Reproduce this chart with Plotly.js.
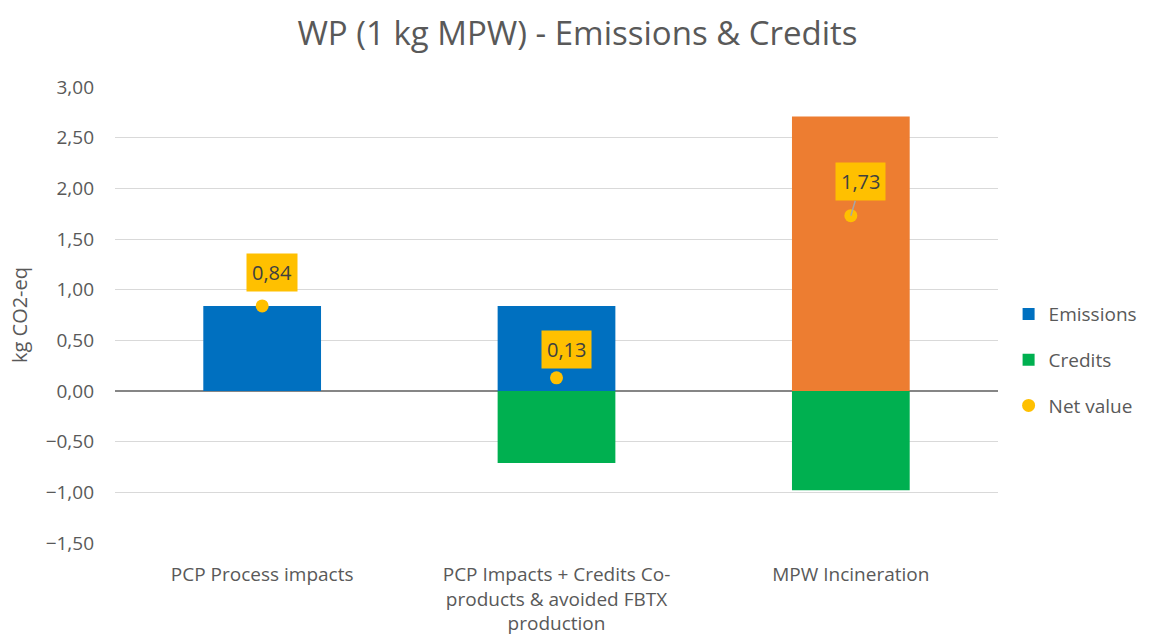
<!DOCTYPE html>
<html>
<head>
<meta charset="utf-8">
<script src="https://cdn.plot.ly/plotly-3.0.1.min.js"></script>
<style>html,body{margin:0;padding:0;background:#fff;}#chart{width:1155px;height:643px;}</style>
</head>
<body>
<div id="chart"></div>
<script>
const categories = ["PCP Process impacts", "PCP Impacts + Credits Co-<br>products & avoided FBTX<br>production", "MPW Incineration"];
const emissions = [0.84, 0.84, 2.71];
const credits = [0, -0.71, -0.98];
const netValue = [0.84, 0.13, 1.73];
const netLabels = ["0,84", "0,13", "1,73"];
const emissionColors = ["#0070C0", "#0070C0", "#ED7D31"];

const FONT = "Open Sans, Liberation Sans, sans-serif";

const traces = [
  {type: "bar", name: "Emissions", x: categories, y: emissions,
   marker: {color: emissionColors}, legendgroup: "a", hoverinfo: "y"},
  {type: "bar", name: "Credits", x: categories, y: credits,
   marker: {color: "#00B050"}, legendgroup: "b", hoverinfo: "y"},
  {type: "scatter", mode: "markers", name: "Net value", x: categories, y: netValue,
   marker: {color: "#FFC000", size: 13}, legendgroup: "c", hoverinfo: "y"}
];

const offsets = [[10, -33, false], [10, -28, false], [10, -34, true]];
const annotations = categories.map((c, i) => ({
  x: c, y: netValue[i], xref: "x", yref: "y",
  text: netLabels[i], showarrow: true,
  ax: offsets[i][0], ay: offsets[i][1],
  arrowhead: 0, arrowwidth: 1.5,
  arrowcolor: offsets[i][2] ? "#A6A6A6" : "rgba(0,0,0,0)",
  bgcolor: "#FFC000", borderpad: 5,
  font: {family: FONT, size: 20, color: "#404040"}
}));

const layout = {
  width: 1155, height: 643,
  paper_bgcolor: "#fff", plot_bgcolor: "#fff",
  separators: ",.",
  barmode: "relative", bargap: 0.6,
  margin: {l: 115, r: 157, t: 87, b: 100},
  title: {text: "WP (1 kg MPW) - Emissions & Credits", x: 0.5, xanchor: "center", y: 0.948, yanchor: "middle",
          font: {family: FONT, size: 33, color: "#595959"}},
  font: {family: FONT, color: "#595959"},
  xaxis: {tickfont: {family: FONT, size: 19, color: "#595959"}, showgrid: false, zeroline: false,
          showline: false, ticks: "", ticklabelstandoff: 18},
  yaxis: {range: [-1.5, 3.0], dtick: 0.5, tickformat: ".2f",
          tickfont: {family: FONT, size: 19, color: "#595959"},
          gridcolor: "#D9D9D9", gridwidth: 1,
          zeroline: true, zerolinecolor: "#868686", zerolinewidth: 2,
          title: {text: "kg CO2-eq", font: {family: FONT, size: 20, color: "#595959"}, standoff: 12},
          ticks: "", showline: false, ticklabelstandoff: 20},
  legend: {x: 1.012, xanchor: "left", y: 0.401, yanchor: "middle",
           font: {family: FONT, size: 19, color: "#595959"},
           traceorder: "grouped", tracegroupgap: 18, itemwidth: 30},
  annotations: annotations,
  showlegend: true
};

Plotly.newPlot("chart", traces, layout, {displayModeBar: false, staticPlot: true});
</script>
</body>
</html>
